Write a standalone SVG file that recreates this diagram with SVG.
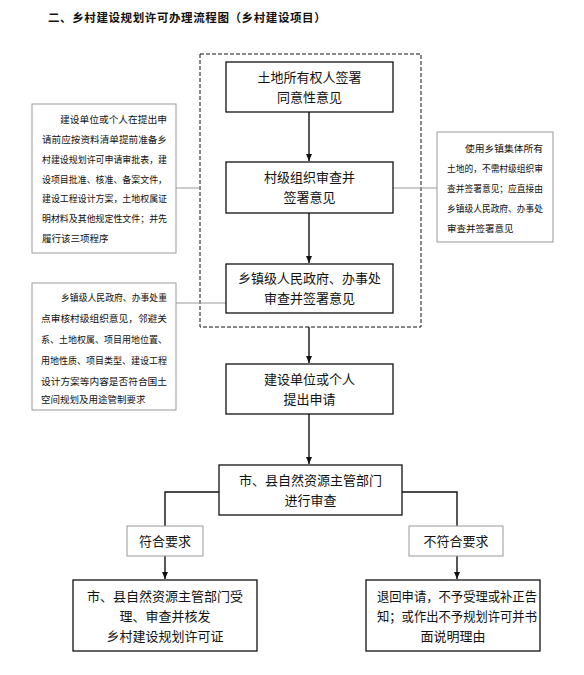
<svg xmlns="http://www.w3.org/2000/svg" width="584" height="675" viewBox="0 0 584 675">
<defs>
<style>
.t{font-family:"Noto Sans CJK SC","Liberation Serif",serif;fill:#111;}
.box{fill:#fff;stroke:#111;stroke-width:1.3;}
.gbox{fill:#fff;stroke:#999;stroke-width:1;}
.m{font-size:13px;text-anchor:middle;}
.n{font-size:9.5px;}
.ln{stroke:#111;stroke-width:1.4;fill:none;}
.gl{stroke:#999;stroke-width:1;fill:none;}
</style>
<marker id="ah" markerWidth="8" markerHeight="8" refX="7" refY="4" orient="auto" markerUnits="userSpaceOnUse">
<path d="M0,1 L7,4 L0,7 Z" fill="#111"/>
</marker>
</defs>
<rect width="584" height="675" fill="#fff"/>
<text class="t" x="48" y="22" font-size="11.5" font-weight="bold" letter-spacing="0.6">二、乡村建设规划许可办理流程图（乡村建设项目）</text>

<g id="group-dashed">
<rect x="200" y="54" width="221" height="273" fill="none" stroke="#111" stroke-width="1" stroke-dasharray="4,2"/>
</g>

<g id="connectors">
<line class="ln" x1="309" y1="112" x2="309" y2="161" marker-end="url(#ah)"/>
<line class="ln" x1="309" y1="213" x2="309" y2="263" marker-end="url(#ah)"/>
<line class="ln" x1="309" y1="327" x2="309" y2="363" marker-end="url(#ah)"/>
<line class="ln" x1="309" y1="414" x2="309" y2="464" marker-end="url(#ah)"/>
<polyline class="ln" points="219,492 165,492 165,526"/>
<polyline class="ln" points="402,492 457,492 457,526"/>
<line class="ln" x1="165" y1="556" x2="165" y2="579" marker-end="url(#ah)"/>
<line class="ln" x1="457" y1="556" x2="457" y2="579" marker-end="url(#ah)"/>
<line class="gl" x1="176" y1="188" x2="200" y2="188"/>
<line class="gl" x1="393" y1="188" x2="437" y2="188"/>
<line class="gl" x1="176" y1="303" x2="226" y2="303"/>
</g>

<g id="n1">
<rect class="box" x="226" y="62" width="167" height="50"/>
<text class="t m" x="309.5" y="82">土地所有权人签署</text>
<text class="t m" x="309.5" y="102">同意性意见</text>
</g>
<g id="n2">
<rect class="box" x="226" y="162" width="167" height="51"/>
<text class="t m" x="309.5" y="182">村级组织审查并</text>
<text class="t m" x="309.5" y="202">签署意见</text>
</g>
<g id="n3">
<rect class="box" x="226" y="264" width="167" height="49"/>
<text class="t m" x="309.5" y="283">乡镇级人民政府、办事处</text>
<text class="t m" x="309.5" y="303">审查并签署意见</text>
</g>
<g id="n4">
<rect class="box" x="226" y="364" width="167" height="50"/>
<text class="t m" x="309.5" y="384">建设单位或个人</text>
<text class="t m" x="309.5" y="404">提出申请</text>
</g>
<g id="n5">
<rect class="box" x="219" y="465" width="183" height="50"/>
<text class="t m" x="310.5" y="485">市、县自然资源主管部门</text>
<text class="t m" x="310.5" y="505">进行审查</text>
</g>
<g id="l1">
<rect class="gbox" x="127" y="526" width="76" height="30"/>
<text class="t m" x="165" y="545.5">符合要求</text>
</g>
<g id="l2">
<rect class="gbox" x="409" y="526" width="94" height="30"/>
<text class="t m" x="456" y="545.5">不符合要求</text>
</g>
<g id="n6">
<rect class="box" x="73" y="580" width="184" height="71"/>
<text class="t m" x="165" y="601">市、县自然资源主管部门受</text>
<text class="t m" x="165" y="621">理、审查并核发</text>
<text class="t m" x="165" y="641">乡村建设规划许可证</text>
</g>
<g id="n7">
<rect class="box" x="366" y="580" width="174" height="71"/>
<text class="t" font-size="13" x="377" y="601" textLength="160" lengthAdjust="spacingAndGlyphs">退回申请，不予受理或补正告</text>
<text class="t" font-size="13" x="377" y="621" textLength="160" lengthAdjust="spacingAndGlyphs">知；或作出不予规划许可并书</text>
<text class="t m" x="453" y="641">面说明理由</text>
</g>

<g id="note1">
<rect class="gbox" x="32" y="104" width="144" height="149"/>
<text class="t n" x="60" y="123" textLength="107" lengthAdjust="spacingAndGlyphs">建设单位或个人在提出申</text>
<text class="t n" x="42" y="143" textLength="125" lengthAdjust="spacingAndGlyphs">请前应按资料清单提前准备乡</text>
<text class="t n" x="42" y="163" textLength="125" lengthAdjust="spacingAndGlyphs">村建设规划许可申请审批表，建</text>
<text class="t n" x="42" y="183" textLength="125" lengthAdjust="spacingAndGlyphs">设项目批准、核准、备案文件，</text>
<text class="t n" x="42" y="202" textLength="125" lengthAdjust="spacingAndGlyphs">建设工程设计方案，土地权属证</text>
<text class="t n" x="42" y="222" textLength="125" lengthAdjust="spacingAndGlyphs">明材料及其他规定性文件；并先</text>
<text class="t n" x="42" y="242">履行该三项程序</text>
</g>
<g id="note2">
<rect class="gbox" x="32" y="283" width="144" height="127"/>
<text class="t n" x="61" y="301" textLength="106" lengthAdjust="spacingAndGlyphs">乡镇级人民政府、办事处重</text>
<text class="t n" x="41" y="322" textLength="126" lengthAdjust="spacingAndGlyphs">点审核村级组织意见，邻避关</text>
<text class="t n" x="41" y="343" textLength="126" lengthAdjust="spacingAndGlyphs">系、土地权属、项目用地位置、</text>
<text class="t n" x="41" y="364" textLength="126" lengthAdjust="spacingAndGlyphs">用地性质、项目类型、建设工程</text>
<text class="t n" x="41" y="385" textLength="126" lengthAdjust="spacingAndGlyphs">设计方案等内容是否符合国土</text>
<text class="t n" x="41" y="403">空间规划及用途管制要求</text>
</g>
<g id="note3">
<rect class="gbox" x="437" y="132" width="116" height="110"/>
<text class="t n" x="465" y="152" textLength="78" lengthAdjust="spacingAndGlyphs">使用乡镇集体所有</text>
<text class="t n" x="447" y="172" textLength="96" lengthAdjust="spacingAndGlyphs">土地的，不需村级组织审</text>
<text class="t n" x="447" y="192" textLength="96" lengthAdjust="spacingAndGlyphs">查并签署意见；应直接由</text>
<text class="t n" x="447" y="212" textLength="96" lengthAdjust="spacingAndGlyphs">乡镇级人民政府、办事处</text>
<text class="t n" x="447" y="232">审查并签署意见</text>
</g>
</svg>
